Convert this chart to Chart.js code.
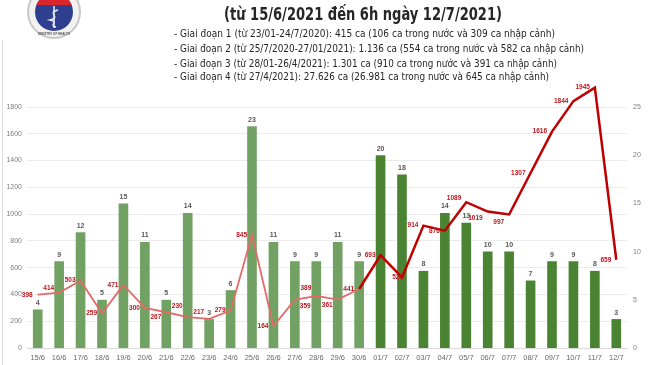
<!DOCTYPE html>
<html>
<head>
<meta charset="utf-8">
<script src="https://cdn.jsdelivr.net/npm/chart.js@4.4.0/dist/chart.umd.min.js"></script>
<style>
  html, body { margin: 0; padding: 0; background: #fff; }
  #wrap { width: 650px; height: 365px; position: relative; }
</style>
</head>
<body>
<div id="wrap"><canvas id="myChart" width="650" height="365"></canvas></div>
<script>
const days = ['15/6','16/6','17/6','18/6','19/6','20/6','21/6','22/6','23/6','24/6','25/6','26/6','27/6','28/6','29/6','30/6',
  '01/7','02/7','03/7','04/7','05/7','06/7','07/7','08/7','09/7','10/7','11/7','12/7'];
const importedCases = [4,9,12,5,15,11,5,14,3,6,23,11,9,9,11,9,20,18,8,14,13,10,10,7,9,9,8,3];
const domesticCases = [398,414,503,259,471,300,267,230,217,279,845,164,359,389,361,441,693,527,914,876,1089,1019,997,1307,1616,1844,1945,659];
const leftTicks = [0,200,400,600,800,1000,1200,1400,1600,1800];
const rightTicks = [0,5,10,15,20,25];

const titleText = '(từ 15/6/2021 đến 6h ngày 12/7/2021)';
const phaseLines = [
  '- Giai đoạn 1 (từ 23/01-24/7/2020): 415 ca (106 ca trong nước và 309 ca nhập cảnh)',
  '- Giai đoạn 2 (từ 25/7/2020-27/01/2021): 1.136 ca (554 ca trong nước và 582 ca nhập cảnh)',
  '- Giai đoạn 3 (từ 28/01-26/4/2021): 1.301 ca (910 ca trong nước và 391 ca nhập cảnh)',
  '- Giai đoạn 4 (từ 27/4/2021): 27.626 ca (26.981 ca trong nước và 645 ca nhập cảnh)'
];

const FIRST_JULY = 16;

// draw text squeezed to a given width (condensed look)
function fitText(ctx, text, x, y, width, font, color) {
  ctx.font = font;
  ctx.fillStyle = color;
  const w = ctx.measureText(text).width;
  ctx.save();
  ctx.translate(x, y);
  ctx.scale(width / w, 1);
  ctx.textAlign = 'left';
  ctx.textBaseline = 'middle';
  ctx.fillText(text, 0, 0);
  ctx.restore();
}

const header = {
  id: 'header',
  beforeDraw(chart) {
    const ctx = chart.ctx;
    ctx.save();
    ctx.fillStyle = '#fff';
    ctx.fillRect(0, 0, chart.width, chart.height);

    // left frame line
    ctx.strokeStyle = '#dddddd';
    ctx.lineWidth = 1;
    ctx.beginPath(); ctx.moveTo(2.5, 40); ctx.lineTo(2.5, 365); ctx.stroke();

    // logo (simplified)
    ctx.beginPath(); ctx.arc(54, 12, 26, 0, Math.PI * 2);
    ctx.fillStyle = '#f2f2f2'; ctx.fill();
    ctx.strokeStyle = '#c8c8c8'; ctx.lineWidth = 2; ctx.stroke();
    ctx.beginPath(); ctx.arc(54, 12, 19, 0, Math.PI * 2);
    ctx.fillStyle = '#2f3f8f'; ctx.fill();
    ctx.save();
    ctx.beginPath(); ctx.arc(54, 12, 19, 0, Math.PI * 2); ctx.clip();
    ctx.fillStyle = '#d8262c'; ctx.fillRect(30, -10, 50, 15);
    ctx.restore();
    ctx.strokeStyle = '#e8ecf8'; ctx.lineWidth = 1.5;
    ctx.beginPath(); ctx.moveTo(54, 6); ctx.lineTo(54, 28); ctx.stroke();
    ctx.beginPath();
    ctx.moveTo(58, 10); ctx.bezierCurveTo(46, 13, 62, 17, 50, 20);
    ctx.bezierCurveTo(60, 22, 48, 25, 56, 27); ctx.stroke();
    ctx.font = 'bold 3px Arial'; ctx.fillStyle = '#555';
    ctx.textAlign = 'center'; ctx.fillText('MINISTRY OF HEALTH', 54, 35);

    fitText(ctx, titleText, 224, 15, 278, 'bold 18px "Liberation Sans Narrow", "DejaVu Sans Condensed", Arial', '#262626');
    const lineY = [34, 49, 64, 77];
    const lineW = [381, 410, 383, 375];
    phaseLines.forEach((t, i) => fitText(ctx, t, 174, lineY[i], lineW[i], '11px "Liberation Sans Narrow", "DejaVu Sans Condensed", Arial', '#262626'));
    ctx.restore();
  }
};

// label nudges for the red line values: [dx, dy, align]
const nudge = {1: [0, -4], 6: [0, 5], 7: [0, -11], 8: [0, -7], 12: [5, 6, 'left'], 13: [0, -8], 14: [0, 6],
  17: [6, 0], 20: [0, -4], 21: [0, 7], 22: [0, 8]};

const valueLabels = {
  id: 'valueLabels',
  afterDatasetsDraw(chart) {
    const ctx = chart.ctx;
    ctx.save();
    const barMeta = chart.getDatasetMeta(0);
    ctx.font = 'bold 7px Arial';
    ctx.fillStyle = '#595959';
    ctx.textAlign = 'center';
    ctx.textBaseline = 'bottom';
    barMeta.data.forEach((bar, i) => {
      ctx.fillText(String(importedCases[i]), bar.x, bar.y - 3);
    });

    const lineMeta = chart.getDatasetMeta(1);
    ctx.font = 'bold 6.5px Arial';
    ctx.fillStyle = '#c0141c';
    ctx.textBaseline = 'middle';
    lineMeta.data.forEach((pt, i) => {
      const n = nudge[i] || [0, 0];
      const align = n[2] || 'right';
      ctx.textAlign = align;
      const x = align === 'right' ? pt.x - 5 + n[0] : pt.x + n[0];
      ctx.fillText(String(domesticCases[i]), x, pt.y + n[1]);
    });
    ctx.restore();
  }
};

const ctx = document.getElementById('myChart').getContext('2d');
new Chart(ctx, {
  data: {
    labels: days,
    datasets: [{
      type: 'bar',
      label: 'Nhập cảnh',
      data: importedCases,
      yAxisID: 'y1',
      order: 2,
      backgroundColor: importedCases.map((v, i) => i >= FIRST_JULY ? '#4a8433' : '#72a263'),
      barPercentage: 0.5,
      categoryPercentage: 0.9
    }, {
      type: 'line',
      label: 'Trong nước',
      data: domesticCases,
      yAxisID: 'y',
      order: 1,
      borderWidth: 2,
      pointRadius: 0,
      tension: 0,
      clip: false,
      borderColor: '#c00000',
      segment: {
        borderColor: c => c.p0DataIndex >= FIRST_JULY - 1 ? '#c00000' : '#e46a6a',
        borderWidth: c => c.p0DataIndex >= FIRST_JULY - 1 ? 2.5 : 1.8
      }
    }]
  },
  options: {
    responsive: false,
    animation: false,
    devicePixelRatio: 1,
    layout: { padding: { top: 107, left: 0, right: 0, bottom: 0 } },
    plugins: { legend: { display: false }, tooltip: { enabled: false } },
    scales: {
      x: {
        offset: true,
        grid: { display: false, drawTicks: false },
        border: { color: '#d9d9d9' },
        ticks: { color: '#6a6a6a', font: { size: 7.5, family: 'Arial' }, maxRotation: 0, autoSkip: false, padding: 5 },
        afterFit: s => { s.height = 17; }
      },
      y: {
        position: 'left',
        min: leftTicks[0],
        max: leftTicks[leftTicks.length - 1],
        afterBuildTicks: s => { s.ticks = leftTicks.map(v => ({ value: v })); },
        grid: { color: '#ebebeb', drawTicks: false },
        border: { display: false },
        ticks: { color: '#7f7f7f', font: { size: 7, family: 'Arial' }, padding: 5, callback: v => String(v) },
        afterFit: s => { s.width = 27; }
      },
      y1: {
        position: 'right',
        min: rightTicks[0],
        max: rightTicks[rightTicks.length - 1],
        afterBuildTicks: s => { s.ticks = rightTicks.map(v => ({ value: v })); },
        grid: { display: false, drawTicks: false },
        border: { display: false },
        ticks: { color: '#7f7f7f', font: { size: 7, family: 'Arial' }, padding: 6, callback: v => String(v) },
        afterFit: s => { s.width = 23; }
      }
    }
  },
  plugins: [header, valueLabels]
});
</script>
</body>
</html>
